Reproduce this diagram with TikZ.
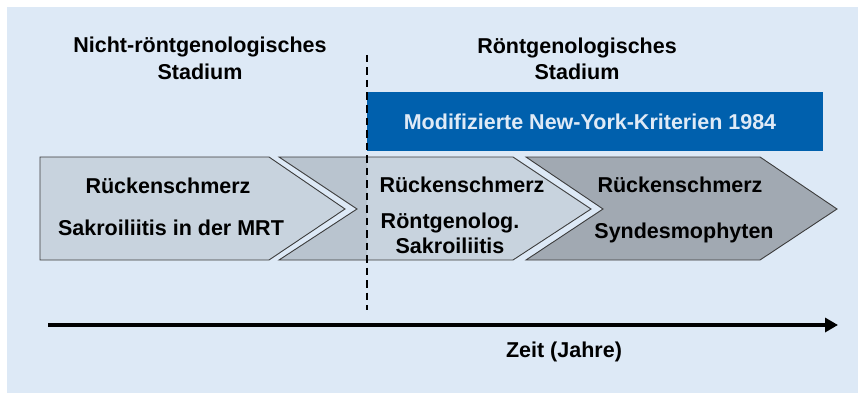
\documentclass[tikz,border=0pt]{standalone}
\usepackage{fontspec}
\setmainfont{Liberation Sans}
\usepackage{tikz}
\usetikzlibrary{arrows.meta}

\definecolor{bgblue}{HTML}{DDE9F6}
\definecolor{nyblue}{HTML}{0060AD}
\definecolor{nytext}{HTML}{DFEAF6}
\definecolor{phaseA}{HTML}{C8D3DE}
\definecolor{phaseB}{HTML}{B9C4CF}
\definecolor{phaseC}{HTML}{A1A9B2}
\definecolor{edgegray}{HTML}{3C3C3C}

\tikzset{
  label/.style={anchor=base, inner sep=0pt, text=black},
  phase/.style={draw=edgegray, line width=0.9pt},
}

\begin{document}
\begin{tikzpicture}[x=1pt,y=-1pt,font=\fontsize{21.5}{25}\selectfont\bfseries]
\useasboundingbox (0,0) rectangle (858,393);
%background
\fill[bgblue] (7,7) rectangle (858,393);
%stage titles
\node[label] (nrt1) at (200,53) {Nicht-röntgenologisches};
\node[label] (nrt2) at (200,80) {Stadium};
\node[label] (rt1) at (577,54) {Röntgenologisches};
\node[label] (rt2) at (577,80) {Stadium};
%criteria box
\fill[nyblue] (367,92) rectangle (823,151);
\node[label, text=nytext] (nyk) at (590,129) {Modifizierte New-York-Kriterien 1984};
%first phase
\filldraw[phase, fill=phaseA] (40,157) -- (269,157) -- (345,209) -- (269,260) -- (40,260) -- cycle;
\node[label] (a1) at (168,193) {Rückenschmerz};
\node[label] (a2) at (171,235) {Sakroiliitis in der MRT};
%second phase
\fill[phaseA] (279,157) -- (513,157) -- (591,209) -- (513,260) -- (279,260) -- (357,209) -- cycle;
\begin{scope}
  \clip (270,150) rectangle (367,270);
  \fill[phaseB] (279,157) -- (513,157) -- (591,209) -- (513,260) -- (279,260) -- (357,209) -- cycle;
\end{scope}
\draw[phase] (279,157) -- (513,157) -- (591,209) -- (513,260) -- (279,260) -- (357,209) -- cycle;
\node[label] (b1) at (462,192) {Rückenschmerz};
\node[label] (b2) at (450,228) {Röntgenolog.};
\node[label] (b3) at (450,253) {Sakroiliitis};
%third phase
\filldraw[phase, fill=phaseC] (526,157) -- (760,157) -- (837,209) -- (760,260) -- (526,260) -- (603,209) -- cycle;
\node[label] (c1) at (680,192) {Rückenschmerz};
\node[label] (c2) at (684,238) {Syndesmophyten};
%border between stages
\coordinate (cut0) at (367,55);
\coordinate (cut1) at (367,310);
\draw[line width=1.7pt, dash pattern=on 7.5pt off 5pt] (cut0) -- (cut1);
%time axis
\coordinate (t0) at (48,325);
\coordinate (t1) at (838,325);
\draw[line width=3.6pt, -{Triangle[length=13pt,width=14pt]}] (t0) -- (t1);
\node[label] (zeit) at (564,357) {Zeit (Jahre)};
\end{tikzpicture}
\end{document}
